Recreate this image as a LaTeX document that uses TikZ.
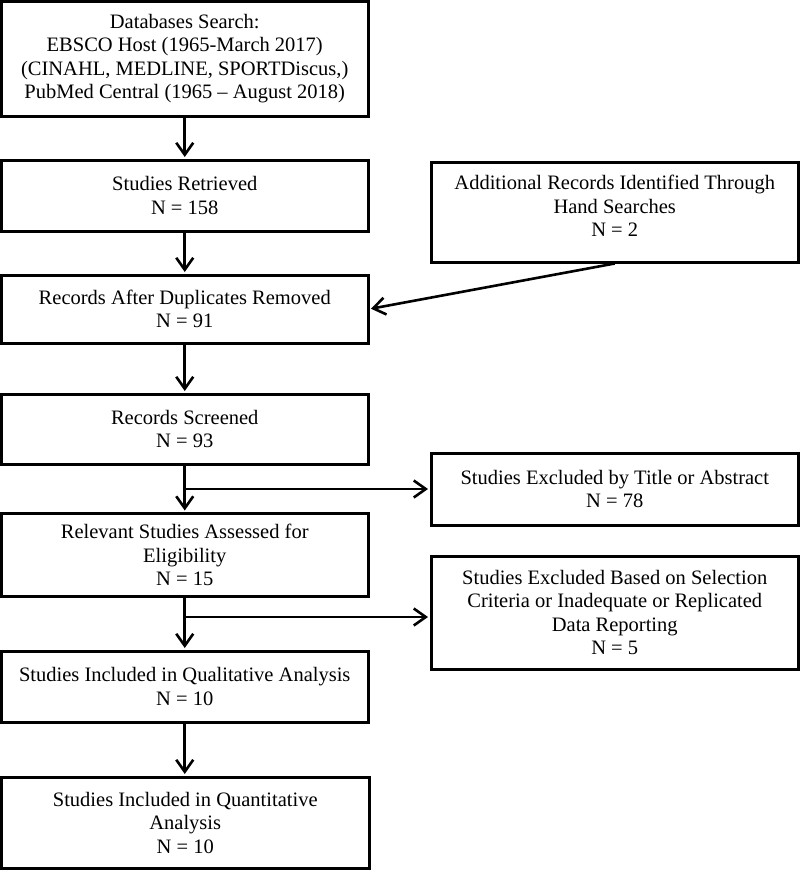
\documentclass[tikz,border=0pt]{standalone}
\usepackage{fontspec}
\setmainfont{Liberation Serif}
\usetikzlibrary{arrows.meta}
\begin{document}
\begin{tikzpicture}[x=1pt,y=-1pt,
  box/.style={draw, line width=3pt, inner sep=0pt, align=center,
    font=\fontsize{20.5}{23.5}\selectfont},
  arr/.style={line width=2.6pt, shorten >=1.5pt,
    -{Straight Barb[length=12pt,width=17pt,line width=2.6pt]}}]
\useasboundingbox (0,0) rectangle (800,870);

\node[box, minimum width=366.5pt, minimum height=114.5pt] (b1) at (184.75,58.75)
  {Databases Search:\\EBSCO Host (1965-March 2017)\\(CINAHL, MEDLINE, SPORTDiscus,)\\PubMed Central (1965 – August 2018)};
\node[box, minimum width=366.5pt, minimum height=71pt] (b2) at (184.75,195.5)
  {Studies Retrieved\\N = 158};
\node[box, minimum width=367.5pt, minimum height=100pt] (b3) at (614.75,212)
  {Additional Records Identified Through\\Hand Searches\\N = 2\\[-11.5pt]\mbox{}};
\node[box, minimum width=366.5pt, minimum height=68pt] (b4) at (184.75,309)
  {Records After Duplicates Removed\\N = 91};
\node[box, minimum width=366.5pt, minimum height=70pt] (b5) at (184.75,429)
  {Records Screened\\N = 93};
\node[box, minimum width=367.5pt, minimum height=72pt] (b6) at (614.75,489)
  {Studies Excluded by Title or Abstract\\N = 78};
\node[box, minimum width=366.5pt, minimum height=83pt] (b7) at (184.75,555)
  {Relevant Studies Assessed for\\Eligibility\\N = 15};
\node[box, minimum width=367.5pt, minimum height=113pt] (b8) at (614.75,612.5)
  {Studies Excluded Based on Selection\\Criteria or Inadequate or Replicated\\Data Reporting\\N = 5};
\node[box, minimum width=366.5pt, minimum height=71pt] (b9) at (184.75,686.5)
  {Studies Included in Qualitative Analysis\\N = 10};
\node[box, minimum width=367.5pt, minimum height=91pt] (b10) at (185.25,822.5)
  {Studies Included in Quantitative\\Analysis\\N = 10};

\draw[arr] (b1.south) -- (b1.south |- b2.north);
\draw[arr] (b2.south) -- (b2.south |- b4.north);
\draw[arr] (b3.south) -- (b4.east);
\draw[arr] (b4.south) -- (b4.south |- b5.north);
\draw[arr] (b5.south) -- (b5.south |- b7.north);
\draw[arr] (b5.south |- b6.west) -- (b6.west);
\draw[arr] (b7.south) -- (b7.south |- b9.north);
\draw[arr] (b7.south |- 0,617) -- (b8.west |- 0,617);
\draw[arr] (b9.south) -- (b9.south |- b10.north);
\end{tikzpicture}
\end{document}
